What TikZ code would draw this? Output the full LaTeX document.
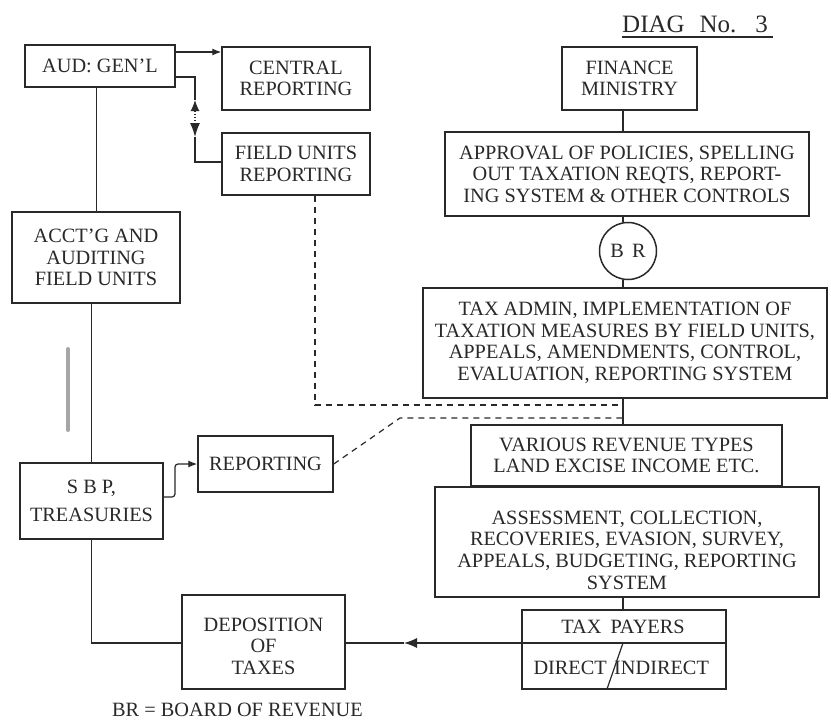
\documentclass[tikz,border=0pt]{standalone}
\usepackage{fontspec}
\setmainfont{Liberation Serif}
\usetikzlibrary{arrows.meta}
\definecolor{ink}{rgb}{0.16,0.16,0.16}
\newcommand{\diagfs}{\fontsize{20.3}{21.6}\selectfont}
\tikzset{
  box/.style={draw=ink, line width=1.5pt, rectangle, inner sep=0pt, align=center, font=\diagfs, text=ink},
  txt/.style={inner sep=0pt, align=center, font=\diagfs, text=ink},
  conn/.style={draw=ink, line width=1.2pt},
  dashconn/.style={conn, dash pattern=on 6pt off 5pt},
  tipsmall/.style={-{Latex[length=9pt,width=7pt]}},
  tipbig/.style={-{Latex[length=13pt,width=10pt]}}
}
\begin{document}
\begin{tikzpicture}[x=1pt,y=-1pt]
\useasboundingbox (0,0) rectangle (831,720);
\fill[white] (0,0) rectangle (831,720);

% helper coordinates
\coordinate (spine) at (623,0);
\coordinate (x195) at (195,0);
\coordinate (x175) at (175,0);
\coordinate (x315) at (315,0);
\coordinate (y52) at (0,52);
\coordinate (y77) at (0,77);
\coordinate (y100) at (0,100);
\coordinate (y137) at (0,137);
\coordinate (y162) at (0,162);
\coordinate (y405) at (0,405);
\coordinate (y418) at (0,418);
\coordinate (y497) at (0,497);
\coordinate (y643) at (0,643);
\coordinate (bend) at (400,418);
\coordinate (mid) at (404,643);

% left column
\node[box, minimum width=150pt, minimum height=42pt] (aud) at (100,66) {AUD: GEN'L};
\node[box, minimum width=148pt, minimum height=63pt] (central) at (296,78.5) {CENTRAL\\REPORTING};
\node[box, minimum width=148pt, minimum height=62pt] (field) at (296,164) {FIELD UNITS\\REPORTING};
\node[box, minimum width=168pt, minimum height=91pt] (acct) at (96,257.5) {ACCT'G AND\\AUDITING\\FIELD UNITS};
\node[box, minimum width=143pt, minimum height=76pt] (sbp) at (91.5,501) {S B P,\\[7pt]TREASURIES};
\node[box, minimum width=135pt, minimum height=56pt] (rep) at (265.5,464) {REPORTING};
\node[box, minimum width=163pt, minimum height=94pt] (dep) at (263.5,642) {};
\node[txt] (deptxt) at (263.5,646) {DEPOSITION\\OF\\TAXES};

% right column
\node[txt, font=\fontsize{25}{28}\selectfont, anchor=base west] (diag) at (622,32) {DIAG\hspace{15pt}No.\hspace{19pt}3};
\draw[conn] (622,37) -- (773,37);
\node[box, minimum width=135pt, minimum height=63pt] (fin) at (629.5,78.5) {FINANCE\\MINISTRY};
\node[box, minimum width=364pt, minimum height=84pt] (appr) at (627,174) {APPROVAL OF POLICIES, SPELLING\\OUT TAXATION REQTS, REPORT-\\ING SYSTEM \& OTHER CONTROLS};
\node[circle, draw=ink, line width=1.5pt, minimum size=57pt, inner sep=0pt, font=\diagfs, text=ink] (br) at (628,251) {B\hspace{0.4em}R};
\node[box, minimum width=404pt, minimum height=110pt] (admin) at (625,343) {TAX ADMIN, IMPLEMENTATION OF\\TAXATION MEASURES BY FIELD UNITS,\\APPEALS, AMENDMENTS, CONTROL,\\EVALUATION, REPORTING SYSTEM};
\node[box, minimum width=311pt, minimum height=61pt] (various) at (626.5,455.5) {VARIOUS REVENUE TYPES\\LAND EXCISE INCOME ETC.};
\node[box, minimum width=384pt, minimum height=110pt] (assess) at (627,542) {};
\node[txt] (assesstxt) at (627,550) {ASSESSMENT, COLLECTION,\\RECOVERIES, EVASION, SURVEY,\\APPEALS, BUDGETING, REPORTING\\SYSTEM};
\node[box, minimum width=204pt, minimum height=79pt] (payers) at (624,649.5) {};
\node[txt] (tp) at (623,627) {TAX\hspace{0.45em}PAYERS};
\node[txt, anchor=east] (direct) at (607,668) {DIRECT};
\node[txt, anchor=west] (indirect) at (614,668) {INDIRECT};
\draw[conn] (payers.west |- y643) -- (payers.east |- y643);
\draw[conn] (623,643) -- (607,689);

% legend
\node[txt, anchor=base west] (legend) at (112,716) {BR = BOARD OF REVENUE};

% connectors left
\draw[conn, tipsmall] (aud.east |- y52) -- (central.west |- y52);
\draw[conn] (aud.east |- y77) -| (x195 |- y100);
\draw[conn, dotted, {Latex[length=11pt,width=9pt]}-{Latex[length=14pt,width=10pt]}] (x195 |- y100) -- (x195 |- y137);
\draw[conn] (x195 |- y137) |- (field.west |- y162);
\draw[conn, line width=1pt] (acct.north |- aud.south) -- (acct.north);
\draw[conn, line width=1pt] (sbp.north |- acct.south) -- (sbp.north);
\draw[line width=4pt, gray!70, line cap=round] (68,349) -- (68,430);
\draw[conn, tipsmall, rounded corners=3pt] (sbp.east |- y497) -| (x175 |- rep.west) -- (rep.west);
\draw[conn] (sbp.south) |- (dep.west |- y643);

% dashed reporting lines
\draw[dashconn] (x315 |- field.south) |- (spine |- y405);
\draw[dashconn] (rep.east) -- (bend) -- (spine |- y418);

% spine
\draw[conn] (spine |- fin.south) -- (spine |- appr.north);
\draw[conn] (spine |- appr.south) -- (spine |- br.north);
\draw[conn] (spine |- br.south) -- (spine |- admin.north);
\draw[conn] (spine |- admin.south) -- (spine |- various.north);
\draw[conn] (spine |- assess.south) -- (spine |- payers.north);

% tax payers to deposition
\draw[conn, tipbig] (payers.west |- y643) -- (mid);
\draw[conn] (mid) -- (dep.east |- y643);
\end{tikzpicture}
\end{document}
